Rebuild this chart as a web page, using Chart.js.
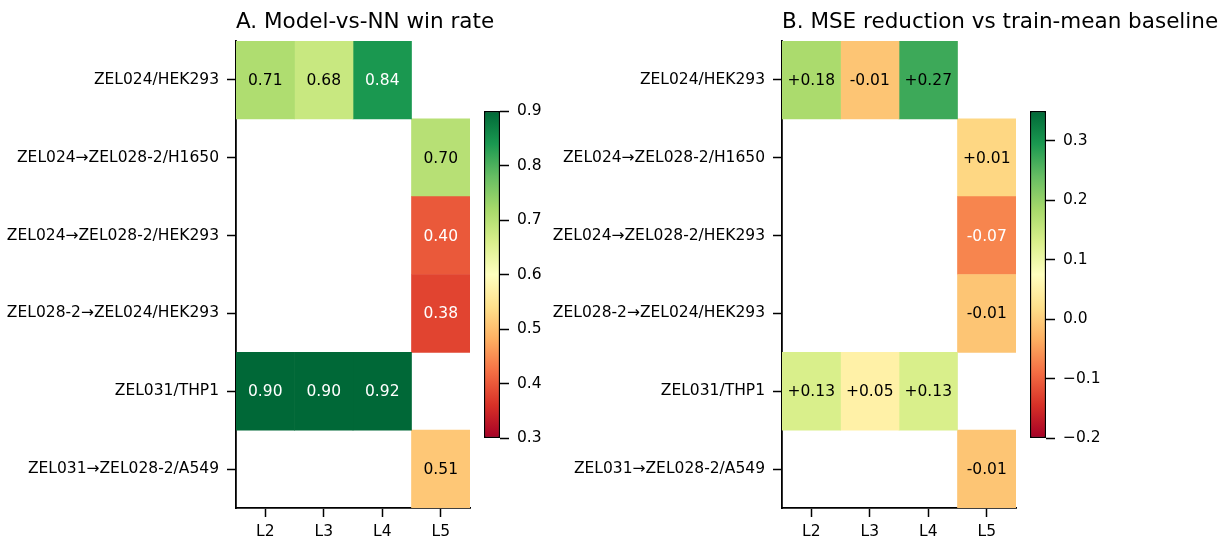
<!DOCTYPE html>
<html>
<head>
<meta charset="utf-8">
<script src="https://cdn.jsdelivr.net/npm/chart.js@4/dist/chart.umd.min.js"></script>
<style>
  html, body { margin: 0; padding: 0; background: #fff; }
  body { width: 1222px; height: 539px; position: relative; overflow: hidden; }
  canvas { position: absolute; top: 0; }
</style>
</head>
<body>
<canvas id="heatA" width="560" height="539" style="left:0px"></canvas>
<canvas id="barA" width="80" height="539" style="left:480px"></canvas>
<canvas id="heatB" width="676" height="539" style="left:546px"></canvas>
<canvas id="barB" width="80" height="539" style="left:1026px"></canvas>
<script>
// Row / column categories shared by both panels
const rowLabels = [
  'ZEL024/HEK293',
  'ZEL024\u2192ZEL028-2/H1650',
  'ZEL024\u2192ZEL028-2/HEK293',
  'ZEL028-2\u2192ZEL024/HEK293',
  'ZEL031/THP1',
  'ZEL031\u2192ZEL028-2/A549'
];
const colLabels = ['L2', 'L3', 'L4', 'L5'];

// Panel A: model-vs-NN win rate (rows x columns, null = not evaluated)
const winRate = [
  [0.71, 0.68, 0.84, null],
  [null, null, null, 0.70],
  [null, null, null, 0.40],
  [null, null, null, 0.38],
  [0.90, 0.90, 0.92, null],
  [null, null, null, 0.51]
];

// Panel B: MSE reduction vs train-mean baseline
const mseReduction = [
  [0.18, -0.01, 0.27, null],
  [null, null, null, 0.01],
  [null, null, null, -0.07],
  [null, null, null, -0.01],
  [0.13, 0.05, 0.13, null],
  [null, null, null, -0.01]
];

// Colour ranges and colorbar tick labels
const winRange = [0.3, 0.9];
const mseRange = [-0.2, 0.35];
const winTicks = [0.3, 0.4, 0.5, 0.6, 0.7, 0.8, 0.9];
const mseTicks = [-0.2, -0.1, 0.0, 0.1, 0.2, 0.3];

// RdYlGn colormap control colours
const RdYlGn = ['#a50026', '#d73027', '#f46d43', '#fdae61', '#fee08b', '#ffffbf',
                '#d9ef8b', '#a6d96a', '#66bd63', '#1a9850', '#006837'];

function hexToRgb(h) {
  return [parseInt(h.slice(1, 3), 16), parseInt(h.slice(3, 5), 16), parseInt(h.slice(5, 7), 16)];
}
function cmap(t) {
  t = Math.max(0, Math.min(1, t));
  const p = t * (RdYlGn.length - 1);
  const i = Math.min(RdYlGn.length - 2, Math.floor(p));
  const f = p - i;
  const a = hexToRgb(RdYlGn[i]), b = hexToRgb(RdYlGn[i + 1]);
  const c = a.map((v, k) => Math.round(v + (b[k] - v) * f));
  return `rgb(${c[0]},${c[1]},${c[2]})`;
}
const norm = (v, r) => (v - r[0]) / (r[1] - r[0]);

Chart.defaults.font.family = "'DejaVu Sans', sans-serif";
Chart.defaults.font.size = 15.5;
Chart.defaults.color = '#000';
Chart.defaults.animation = false;

const FONT = "15.5px 'DejaVu Sans', sans-serif";
const TITLE_FONT = "21.5px 'DejaVu Sans', sans-serif";
const TICK_COLOR = '#000';

// Writes each cell's value at the centre of its bar, plus a left-aligned title
function heatLabelsPlugin(matrix, range, fmt, title) {
  return {
    id: 'heatLabels',
    afterDatasetsDraw(chart) {
      const ctx = chart.ctx;
      ctx.save();
      ctx.font = FONT;
      ctx.textAlign = 'center';
      ctx.textBaseline = 'middle';
      chart.data.datasets.forEach((ds, c) => {
        const meta = chart.getDatasetMeta(c);
        meta.data.forEach((el, r) => {
          const v = matrix[r][c];
          if (v === null || v === undefined) return;
          const n = norm(v, range);
          ctx.fillStyle = (n < 0.25 || n > 0.87) ? '#fff' : '#000';
          const p = el.getCenterPoint();
          ctx.fillText(fmt(v), p.x, p.y + 1);
        });
      });
      ctx.restore();
    },
    afterDraw(chart) {
      const ctx = chart.ctx;
      ctx.save();
      ctx.font = TITLE_FONT;
      ctx.fillStyle = '#000';
      ctx.textAlign = 'left';
      ctx.textBaseline = 'alphabetic';
      ctx.fillText(title, chart.chartArea.left, 28);
      ctx.restore();
    }
  };
}

function makeHeatmap(id, matrix, range, fmt, title, padRight) {
  const datasets = colLabels.map((col, c) => ({
    label: col,
    data: rowLabels.map((_, r) => matrix[r][c] === null ? null : [c, c + 1]),
    backgroundColor: rowLabels.map((_, r) => matrix[r][c] === null ? 'rgba(0,0,0,0)' : cmap(norm(matrix[r][c], range))),
    borderWidth: 0,
    borderSkipped: false,
    barPercentage: 1,
    categoryPercentage: 1,
    grouped: false
  }));
  return new Chart(document.getElementById(id), {
    type: 'bar',
    data: { labels: rowLabels, datasets },
    options: {
      responsive: false,
      indexAxis: 'y',
      layout: { padding: { top: 41, left: 0, right: padRight, bottom: 0 } },
      plugins: { legend: { display: false }, tooltip: { enabled: false } },
      scales: {
        x: {
          type: 'linear',
          min: 0,
          max: colLabels.length,
          afterBuildTicks: s => { s.ticks = colLabels.map((_, i) => ({ value: i + 0.5 })); },
          ticks: { callback: (v, i) => colLabels[i], padding: 6, maxRotation: 0, autoSkip: false, font: { size: 15.5 } },
          grid: { display: true, drawOnChartArea: false, drawTicks: true, tickLength: 9, tickColor: TICK_COLOR, tickWidth: 1.5 },
          border: { display: true, color: '#000', width: 1.8 },
          afterFit: s => { s.height = 31; }
        },
        y: {
          type: 'category',
          offset: true,
          ticks: { padding: 8, autoSkip: false, font: { size: 15.5 } },
          grid: { display: true, offset: false, drawOnChartArea: false, drawTicks: true, tickLength: 9, tickColor: TICK_COLOR, tickWidth: 1.5 },
          border: { display: true, color: '#000', width: 1.8 },
          afterFit: s => { s.width = 236; }
        }
      }
    },
    plugins: [heatLabelsPlugin(matrix, range, fmt, title)]
  });
}

function makeColorbar(id, range, ticks) {
  const gradientFill = (context) => {
    const area = context.chart.chartArea;
    if (!area) return null;
    const g = context.chart.ctx.createLinearGradient(0, area.bottom, 0, area.top);
    RdYlGn.forEach((col, k) => g.addColorStop(k / (RdYlGn.length - 1), col));
    return g;
  };
  return new Chart(document.getElementById(id), {
    type: 'bar',
    data: {
      labels: [''],
      datasets: [{
        data: [[range[0], range[1]]],
        backgroundColor: gradientFill,
        borderColor: '#000',
        borderWidth: 1.5,
        borderSkipped: false,
        barPercentage: 1,
        categoryPercentage: 1
      }]
    },
    options: {
      responsive: false,
      layout: { padding: { top: 111, left: 4, right: 0, bottom: 101 } },
      plugins: { legend: { display: false }, tooltip: { enabled: false } },
      scales: {
        x: { display: false },
        y: {
          position: 'right',
          min: range[0],
          max: range[1],
          afterBuildTicks: s => { s.ticks = ticks.map(v => ({ value: v })); },
          ticks: { callback: v => v.toFixed(1).replace('-', '\u2212'), padding: 8, font: { size: 15.5 } },
          grid: { display: true, drawOnChartArea: false, drawTicks: true, tickLength: 9, tickColor: TICK_COLOR, tickWidth: 1.5 },
          border: { display: false },
          afterFit: s => { s.width = 60; }
        }
      }
    }
  });
}

const fmtWin = v => v.toFixed(2);
const fmtMse = v => (v > 0 ? '+' : '') + v.toFixed(2);

makeHeatmap('heatA', winRate, winRange, fmtWin, 'A. Model-vs-NN win rate', 90);
makeColorbar('barA', winRange, winTicks);
makeHeatmap('heatB', mseReduction, mseRange, fmtMse, 'B. MSE reduction vs train-mean baseline', 206);
makeColorbar('barB', mseRange, mseTicks);
</script>
</body>
</html>
